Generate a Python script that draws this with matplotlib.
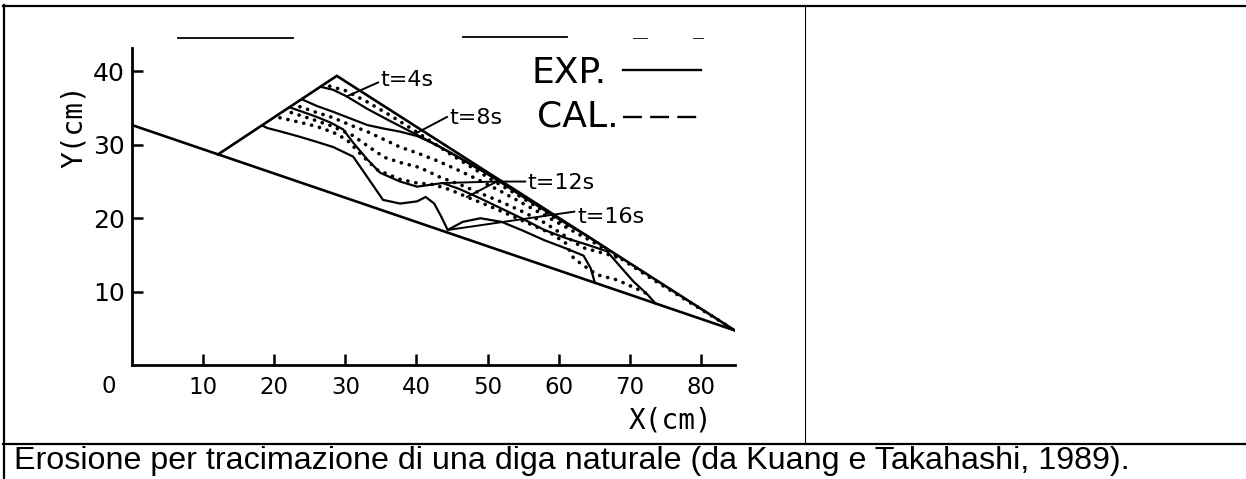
import numpy as np
import matplotlib
matplotlib.use("Agg")
import matplotlib.pyplot as plt
from matplotlib.lines import Line2D

# ---------------- data (cm) ----------------
bed_x = [0.0, 84.8]
bed_y = [32.7, 4.7]
dam_x = [12.1, 28.8, 84.8]
dam_y = [28.7, 39.4, 4.7]

# experimental profiles (solid)
exp_t4_x = [26.6, 28.3, 30.2, 33.1, 36.0, 39.0, 42.0, 45.0, 48.0, 50.5, 52.0]
exp_t4_y = [37.9, 37.5, 36.6, 34.9, 33.4, 31.9, 30.4, 28.8, 27.1, 25.8, 25.0]
exp_t8_x = [23.9, 26.0, 28.3, 30.7, 33.1, 35.5, 37.7, 40.1, 43.0, 46.0, 49.0, 52.0, 55.0, 58.0, 61.0, 64.0, 67.0]
exp_t8_y = [36.2, 35.3, 34.5, 33.6, 32.7, 32.2, 31.8, 31.2, 29.9, 28.3, 26.6, 24.8, 22.9, 21.1, 19.3, 17.6, 15.7]
exp_t12_x = [22.2, 24.0, 26.0, 28.0, 29.7, 31.1, 33.1, 34.9, 37.7, 40.1, 43.7, 46.0, 49.0, 52.0, 55.0, 58.0,
             61.0, 64.0, 66.8, 68.5, 70.5, 72.5, 73.6]
exp_t12_y = [35.1, 34.5, 33.8, 33.0, 32.1, 30.3, 28.0, 26.2, 25.0, 24.3, 24.8, 24.0, 22.7, 21.3, 19.9, 18.4,
             17.3, 16.4, 15.5, 13.6, 11.4, 9.6, 8.4]
exp_t16_x = [18.4, 19.0, 21.0, 23.6, 26.0, 28.3, 31.1, 33.1, 35.3, 37.7, 40.1, 41.3, 42.5, 43.5, 44.4,
             46.5, 49.0, 52.0, 55.0, 58.0, 61.0, 63.5, 64.5, 65.1]
exp_t16_y = [32.6, 32.3, 31.8, 31.1, 30.4, 29.7, 28.4, 25.6, 22.5, 22.0, 22.3, 22.9, 22.0, 20.2, 18.4,
             19.5, 20.0, 19.5, 18.3, 17.0, 15.9, 14.9, 13.2, 11.2]

# calculated profiles (dotted)
cal_t4_x = [27.8, 30.0, 33.0, 36.0, 39.0, 42.0, 45.0, 48.0, 51.0, 54.0, 57.0, 60.0, 62.0]
cal_t4_y = [38.0, 37.4, 35.9, 34.2, 32.4, 30.5, 28.6, 26.8, 25.0, 23.3, 21.5, 19.7, 18.6]
cal_t8_x = [23.6, 26.0, 28.3, 30.7, 33.1, 35.5, 37.7, 40.1, 43.0, 46.0, 49.0, 52.0, 55.0, 58.0, 61.0,
            64.0, 67.0, 70.0, 73.0, 76.0, 79.0, 82.0, 84.3]
cal_t8_y = [35.2, 34.4, 33.7, 32.7, 31.8, 30.7, 29.7, 28.9, 27.8, 26.5, 25.1, 23.6, 22.0, 20.4, 18.8,
            17.2, 15.6, 13.7, 11.8, 10.0, 8.2, 6.4, 5.0]
cal_t12_x = [22.4, 25.0, 28.0, 31.0, 33.5, 35.5, 37.7, 40.5, 43.3, 46.1, 48.5, 51.5, 54.5, 58.0, 61.2,
             63.4, 66.8, 68.5]
cal_t12_y = [34.4, 33.6, 32.6, 31.3, 29.6, 28.3, 27.6, 26.9, 25.6, 24.6, 23.6, 22.4, 21.1, 19.4, 17.4,
             16.0, 15.1, 14.6]
cal_t16_x = [20.8, 23.5, 26.0, 28.3, 30.2, 32.5, 34.5, 37.7, 40.1, 42.3, 44.7, 47.1, 49.9, 53.0, 56.0,
             59.0, 61.0, 62.0, 63.0, 65.4, 68.2, 71.4, 72.9]
cal_t16_y = [33.7, 33.1, 32.5, 31.7, 30.7, 28.4, 26.6, 25.3, 24.8, 24.6, 23.9, 22.9, 21.8, 20.5, 19.2,
             17.9, 16.6, 14.7, 13.9, 12.3, 11.6, 10.2, 9.5]

time_labels = ["t=4s", "t=8s", "t=12s", "t=16s"]
x_ticks = [10, 20, 30, 40, 50, 60, 70, 80]
y_ticks = [10, 20, 30, 40]
caption = "Erosione per tracimazione di una diga naturale (da Kuang e Takahashi, 1989)."

# ---------------- figure ----------------
W, H = 1246, 479
fig = plt.figure(figsize=(W / 100, H / 100), dpi=100)
fig.patch.set_facecolor("white")

def fx(px):
    return px / W

def fy(py):
    return 1 - py / H

# table frame
frame_kw = dict(color="black", transform=fig.transFigure)
fig.add_artist(Line2D([fx(3), 1], [fy(5.5), fy(5.5)], lw=1.6, **frame_kw))
fig.add_artist(Line2D([fx(4), fx(4)], [fy(5), 0], lw=1.6, **frame_kw))
fig.add_artist(Line2D([fx(804.5), fx(804.5)], [fy(5), fy(443)], lw=0.8, **frame_kw))
fig.add_artist(Line2D([fx(3), 1], [fy(443.5), fy(443.5)], lw=1.6, **frame_kw))
# scan remnants at the top of the picture
fig.add_artist(Line2D([fx(178), fx(293)], [fy(38), fy(38)], lw=1.3, **frame_kw))
fig.add_artist(Line2D([fx(463), fx(567)], [fy(37), fy(37)], lw=1.3, **frame_kw))
fig.add_artist(Line2D([fx(633), fx(647)], [fy(38), fy(38)], lw=0.6, **frame_kw))
fig.add_artist(Line2D([fx(693), fx(703)], [fy(38), fy(38)], lw=0.6, **frame_kw))

fig.text(fx(14), fy(469), caption, family="Liberation Sans", fontsize=23.2,
         va="baseline", ha="left", color="black")

# axes
ax = fig.add_axes([fx(132), fy(365), (735 - 132) / W, (365 - 48) / H])
ax.set_xlim(0, 84.8)
ax.set_ylim(0, 43.2)
ax.set_facecolor("none")
for s in ("top", "right"):
    ax.spines[s].set_visible(False)
for s in ("left", "bottom"):
    ax.spines[s].set_linewidth(2.0)
ax.set_xticks(x_ticks)
ax.set_yticks(y_ticks)
ax.set_xticklabels([str(v) for v in x_ticks], fontsize=16.5)
ax.set_yticklabels([str(v) for v in y_ticks], fontsize=18)
ax.tick_params(axis="both", direction="in", width=1.8, length=8, pad=5)
ax.tick_params(axis="x", pad=8)
ax.text(-3.2, -2.9, "0", fontsize=16.5, ha="center", va="center", clip_on=False)

ax.set_xlabel("X(cm)", family="DejaVu Sans Mono", fontsize=20, va="center")
ax.xaxis.set_label_coords(75.7 / 84.8, -7.5 / 43.2)
ax.set_ylabel("Y(cm)", family="DejaVu Sans Mono", fontsize=20, va="center")
ax.yaxis.set_label_coords(-8.2 / 84.8, 32.6 / 43.2)

# bed and dam
ax.plot(bed_x, bed_y, color="black", lw=1.9, solid_capstyle="round")
ax.plot(dam_x, dam_y, color="black", lw=1.9, solid_joinstyle="miter")

exp_sets = [(exp_t4_x, exp_t4_y), (exp_t8_x, exp_t8_y), (exp_t12_x, exp_t12_y), (exp_t16_x, exp_t16_y)]
cal_sets = [(cal_t4_x, cal_t4_y), (cal_t8_x, cal_t8_y), (cal_t12_x, cal_t12_y), (cal_t16_x, cal_t16_y)]
for xs, ys in exp_sets:
    ax.plot(xs, ys, color="black", lw=1.6, solid_joinstyle="round")
for xs, ys in cal_sets:
    ax.plot(xs, ys, color="black", lw=2.6, linestyle=(0, (0.05, 2.2)), dash_capstyle="round")

# time labels with leader lines to the profiles
def on(profile, x):
    xs, ys = profile
    return x, float(np.interp(x, xs, ys))

lab_kw = dict(fontsize=16, ha="left", va="center", color="black")
ax.text(34.9, 38.9, time_labels[0], **lab_kw)
p = on(exp_sets[0], 30.2)
ax.plot([34.6, p[0]], [38.5, p[1]], color="black", lw=1.4)

ax.text(44.6, 33.7, time_labels[1], **lab_kw)
p = on(exp_sets[1], 39.5)
ax.plot([44.3, p[0]], [33.8, p[1]], color="black", lw=1.4)

ax.text(55.6, 24.8, time_labels[2], **lab_kw)
p1 = on(exp_sets[2], 43.7)
p2 = on(cal_sets[3], 47.1)
ax.plot([55.3, 51.3, p1[0]], [25.0, 25.0, p1[1]], color="black", lw=1.4)
ax.plot([51.3, p2[0]], [25.0, p2[1]], color="black", lw=1.4)

ax.text(62.7, 20.2, time_labels[3], **lab_kw)
p = on(exp_sets[3], 44.4)
ax.plot([62.2, p[0]], [20.9, p[1]], color="black", lw=1.4)

# key
ax.text(56.2, 39.8, "EXP.", fontsize=26, ha="left", va="center")
ax.text(56.9, 33.8, "CAL.", fontsize=26, ha="left", va="center")
ax.plot([69.0, 80.0], [40.2, 40.2], color="black", lw=1.7, clip_on=False)
ax.plot([69.0, 79.5], [33.8, 33.8], color="black", lw=1.7, linestyle=(0, (8, 3.5)), clip_on=False)

fig.savefig("out.png", dpi=100, facecolor="white")
